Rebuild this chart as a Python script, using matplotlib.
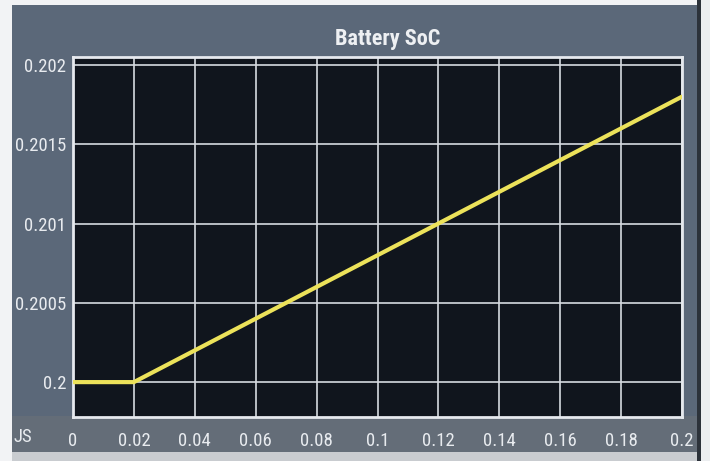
import matplotlib
matplotlib.use("Agg")
import matplotlib.pyplot as plt
from matplotlib.patches import Rectangle
from matplotlib import font_manager

# Data
time_s = [0.0, 0.02, 0.2]
soc = [0.2, 0.2, 0.2018]
xticks = [0, 0.02, 0.04, 0.06, 0.08, 0.1, 0.12, 0.14, 0.16, 0.18, 0.2]
xticklabels = ["0", "0.02", "0.04", "0.06", "0.08", "0.1", "0.12", "0.14", "0.16", "0.18", "0.2"]
yticks = [0.2, 0.2005, 0.201, 0.2015, 0.202]
yticklabels = ["0.2", "0.2005", "0.201", "0.2015", "0.202"]
title = "Battery SoC"

names = {f.name for f in font_manager.fontManager.ttflist}
fam = "Liberation Sans"
condensed = False
for cand in ["Liberation Sans Narrow", "Roboto Condensed", "Open Sans Condensed",
             "DejaVu Sans Condensed"]:
    if cand in names:
        fam = cand
        condensed = True
        break

tick_size = 13.5 if condensed else 12
title_size = 16 if condensed else 14

fig = plt.figure(figsize=(7.1, 4.61), dpi=100)
fig.patch.set_facecolor("#5b6879")
# lighter band under the axes, white frame around the photo
fig.add_artist(Rectangle((0, 9/461), 1, 36/461, transform=fig.transFigure,
                         facecolor="#646d78", edgecolor="none", zorder=0))
fig.add_artist(Rectangle((0, 0), 1, 9/461, transform=fig.transFigure,
                         facecolor="#c9ccd0", edgecolor="none", zorder=0))
fig.add_artist(Rectangle((0, 0), 12/710, 1, transform=fig.transFigure,
                         facecolor="#f2f3f5", edgecolor="none", zorder=0))
fig.add_artist(Rectangle((0, 1 - 5/461), 1, 5/461, transform=fig.transFigure,
                         facecolor="#f2f3f5", edgecolor="none", zorder=0))
fig.add_artist(Rectangle((697/710, 0), 4/710, 1, transform=fig.transFigure,
                         facecolor="#2c323a", edgecolor="none", zorder=0))
fig.add_artist(Rectangle((701/710, 0), 9/710, 1, transform=fig.transFigure,
                         facecolor="#eceef0", edgecolor="none", zorder=0))

ax = fig.add_axes([73/710, 44/461, 609/710, 360/461])
ax.set_facecolor("#10151d")
ax.plot(time_s, soc, color="#ece25a", lw=3, solid_capstyle="round", zorder=3)
ax.set_xlim(0, 0.2)
ax.set_ylim(0.19978, 0.20205)
ax.set_xticks(xticks)
ax.set_xticklabels(xticklabels)
ax.set_yticks(yticks)
ax.set_yticklabels(yticklabels)
ax.grid(True, color="#d6dae0", lw=1.2)
for s in ax.spines.values():
    s.set_color("#e6e9ee")
    s.set_linewidth(2)
ax.tick_params(colors="#e8ebef", length=0, labelsize=tick_size, pad=5)
ax.tick_params(axis="x", pad=11)
for lab in ax.get_xticklabels() + ax.get_yticklabels():
    lab.set_family(fam)
    lab.set_color("#e8ebef")

fig.text(388/710, 1 - 39/461, title, ha="center", va="center",
         color="#eef0f3", fontsize=title_size, family=fam, weight="bold")
fig.text(13/710, 1 - 437/461, "JS", ha="left", va="center",
         color="#e8ebef", fontsize=tick_size, family=fam)

fig.savefig("out.png", dpi=100, facecolor=fig.get_facecolor())
